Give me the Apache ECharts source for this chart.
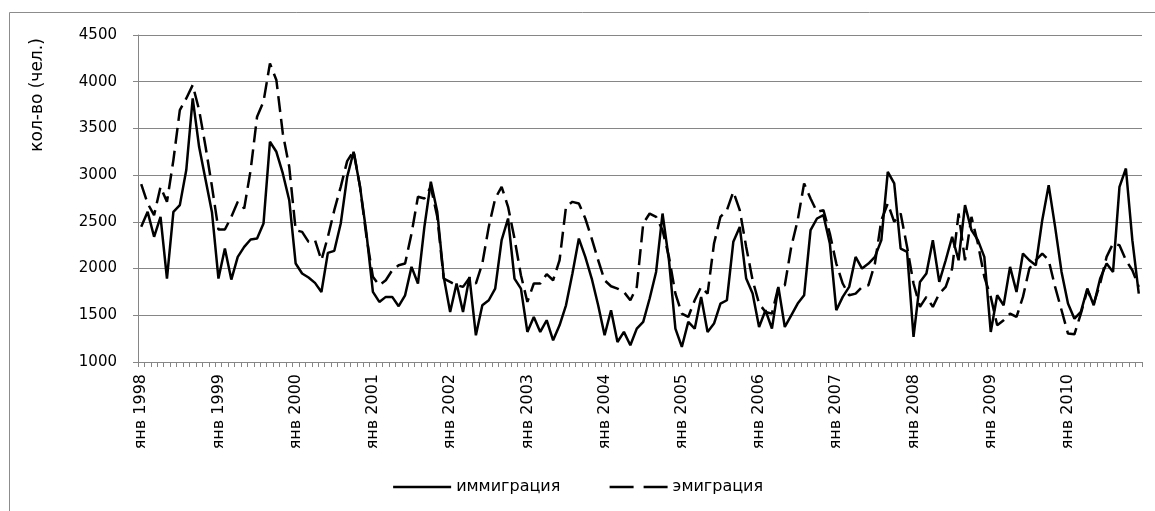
<!DOCTYPE html>
<html>
<head>
<meta charset="utf-8">
<script src="https://cdn.jsdelivr.net/npm/echarts@6/dist/echarts.min.js"></script>
<style>html,body{margin:0;padding:0;background:#fff;}#c{width:1155px;height:511px;}</style>
</head>
<body>
<div id="c"></div>
<script>
var years = [1998,1999,2000,2001,2002,2003,2004,2005,2006,2007,2008,2009,2010];
var monthNames = ['янв','фев','мар','апр','май','июн','июл','авг','сен','окт','ноя','дек'];
var immigration = [
2447,2607,2340,2554,1893,2607,2679,3054,3821,3300,2950,2600,
1893,2214,1882,2125,2232,2311,2321,2482,3357,3250,3018,2732,
2054,1947,1904,1847,1750,2168,2190,2482,2982,3250,2875,2375,
1750,1643,1697,1697,1597,1714,2018,1840,2446,2929,2607,1911,
1536,1840,1536,1911,1286,1607,1661,1786,2304,2536,1893,1786,
1322,1482,1322,1447,1232,1393,1607,1947,2321,2125,1893,1607,
1286,1554,1214,1322,1179,1357,1429,1680,1964,2589,2089,1357,
1161,1429,1357,1697,1322,1411,1625,1661,2286,2446,1893,1732,
1375,1554,1357,1804,1375,1500,1625,1714,2411,2536,2571,2268,
1554,1697,1804,2125,2000,2054,2125,2304,3036,2911,2214,2179,
1268,1857,1947,2304,1857,2089,2339,2089,2679,2411,2304,2125,
1322,1714,1607,2018,1750,2161,2089,2036,2518,2893,2446,1964,
1625,1464,1536,1786,1607,1893,2054,1964,2875,3071,2304,1732
];
var emigration = [
2904,2697,2571,2875,2714,3161,3696,3821,3964,3696,3304,2875,
2418,2418,2554,2714,2643,3054,3625,3786,4196,4018,3446,3089,
2411,2393,2286,2304,2089,2339,2625,2875,3150,3260,2875,2339,
1911,1822,1875,1982,2036,2054,2375,2768,2750,2875,2554,1893,
1857,1822,1804,1900,1840,2054,2446,2750,2875,2661,2321,1929,
1643,1840,1840,1940,1875,2089,2661,2714,2697,2536,2321,2089,
1875,1811,1786,1750,1661,1804,2482,2589,2554,2411,2125,1732,
1518,1482,1661,1804,1732,2268,2554,2625,2822,2625,2232,1875,
1625,1536,1518,1804,1822,2232,2518,2911,2750,2607,2625,2375,
2054,1840,1714,1732,1804,1822,2054,2518,2697,2500,2589,2232,
1840,1590,1697,1590,1732,1804,2000,2589,2089,2554,2268,1911,
1697,1393,1447,1518,1482,1697,2000,2089,2161,2089,1804,1554,
1304,1296,1518,1768,1625,1840,2125,2268,2250,2089,1982,1804
];
var yTicks = [1000,1500,2000,2500,3000,3500,4000,4500];
var categories = [];
years.forEach(function(y){ monthNames.forEach(function(m){ categories.push(m + ' ' + y); }); });

var chart = echarts.init(document.getElementById('c'), null, {renderer:'canvas'});
var font = 'DejaVu Sans';
chart.setOption({
  animation: false,
  backgroundColor: '#fff',
  textStyle: {fontFamily: font},
  graphic: [
    {type:'rect', shape:{x:9.5, y:12.5, width:1160, height:520}, style:{fill:'none', stroke:'#8c8c8c', lineWidth:1}, silent:true, z:-10},
    {type:'text', x:38, y:95, rotation: Math.PI/2, style:{text:'кол-во (чел.)', font:'17px ' + font, fill:'#000', textAlign:'center', textVerticalAlign:'middle'}}
  ],
  grid: {left:138, right:13, top:35, bottom:149, containLabel:false},
  legend: {
    bottom: 11, left: 'center', orient: 'horizontal',
    itemWidth: 58, itemHeight: 14, itemGap: 48,
    textStyle: {fontSize: 16, color:'#000', fontFamily: font},
    itemStyle: {color:'rgba(0,0,0,0)', borderColor:'rgba(0,0,0,0)', borderWidth:0, opacity:0},
    data: [
      {name:'иммиграция', lineStyle:{type:'solid', width:2.5, color:'#000'}},
      {name:'эмиграция', lineStyle:{type:[24,10], width:2.5, color:'#000'}}
    ]
  },
  xAxis: {
    type:'category', data: categories, boundaryGap: true,
    axisLine: {lineStyle:{color:'#868686', width:1}},
    axisTick: {show:true, interval:0, length:5, lineStyle:{color:'#868686'}},
    axisLabel: {interval:11, rotate:90, fontSize:16, color:'#000', fontFamily:font, margin:12},
    splitLine: {show:false}
  },
  yAxis: {
    type:'value', min: yTicks[0], max: yTicks[yTicks.length-1], interval: 500,
    axisLine: {show:true, lineStyle:{color:'#868686', width:1}},
    axisTick: {show:true, length:5, lineStyle:{color:'#868686'}},
    axisLabel: {fontSize:15, color:'#000', fontFamily:font, margin:21, formatter: function(v){ return String(v); }},
    splitLine: {show:true, lineStyle:{color:'#868686', width:1}}
  },
  series: [
    {name:'иммиграция', type:'line', data: immigration, symbol:'none', smooth:false,
     lineStyle:{color:'#000', width:2.5, type:'solid'}, itemStyle:{color:'#000'}},
    {name:'эмиграция', type:'line', data: emigration, symbol:'none', smooth:false,
     lineStyle:{color:'#000', width:2.5, type:[16,7]}, itemStyle:{color:'#000'}}
  ]
});
</script>
</body>
</html>
